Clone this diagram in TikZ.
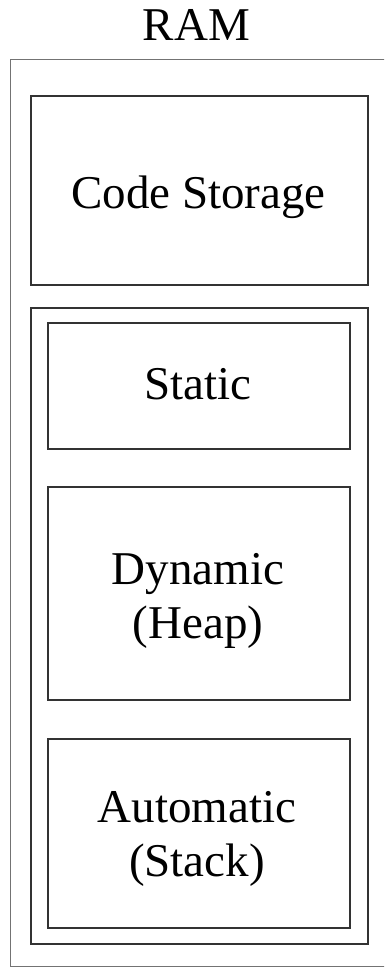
\documentclass[tikz,border=0pt]{standalone}
\usepackage{fontspec}
\setmainfont{Liberation Serif}
\begin{document}
\begin{tikzpicture}[x=1pt, y=-1pt,
  region/.style={draw=black!80, line width=1.3pt, inner sep=0pt},
  frame/.style={draw=black!55, line width=1pt, inner sep=0pt},
  label/.style={inner sep=0pt, anchor=base, align=center,
    font=\fontsize{47}{54}\selectfont}]
\useasboundingbox (0,0) rectangle (384,967);
\clip (0,0) rectangle (384,967);

% memory frame and its parts
\node[frame, minimum width=380pt, minimum height=907pt] (ram) at (200,512.5) {};
\node[region, minimum width=337pt, minimum height=189pt] (code) at (199.5,190.5) {};
\node[region, minimum width=337pt, minimum height=636pt] (data) at (199.5,626) {};
\node[region, minimum width=302pt, minimum height=126pt] (static) at (199,386) {};
\node[region, minimum width=302pt, minimum height=213pt] (dynamic) at (199,593.5) {};
\node[region, minimum width=302pt, minimum height=189pt] (automatic) at (199,833.5) {};

% labels (multi-line labels sit on their last baseline)
\node[label] (ramlbl) at (196.5,40) {RAM};
\node[label] (codelbl) at (198.5,208) {Code Storage};
\node[label] (staticlbl) at (198,399) {Static};
\node[label] (dynlbl) at (198,638) {Dynamic\\(Heap)};
\node[label] (autolbl) at (197,876) {Automatic\\(Stack)};
\end{tikzpicture}
\end{document}
